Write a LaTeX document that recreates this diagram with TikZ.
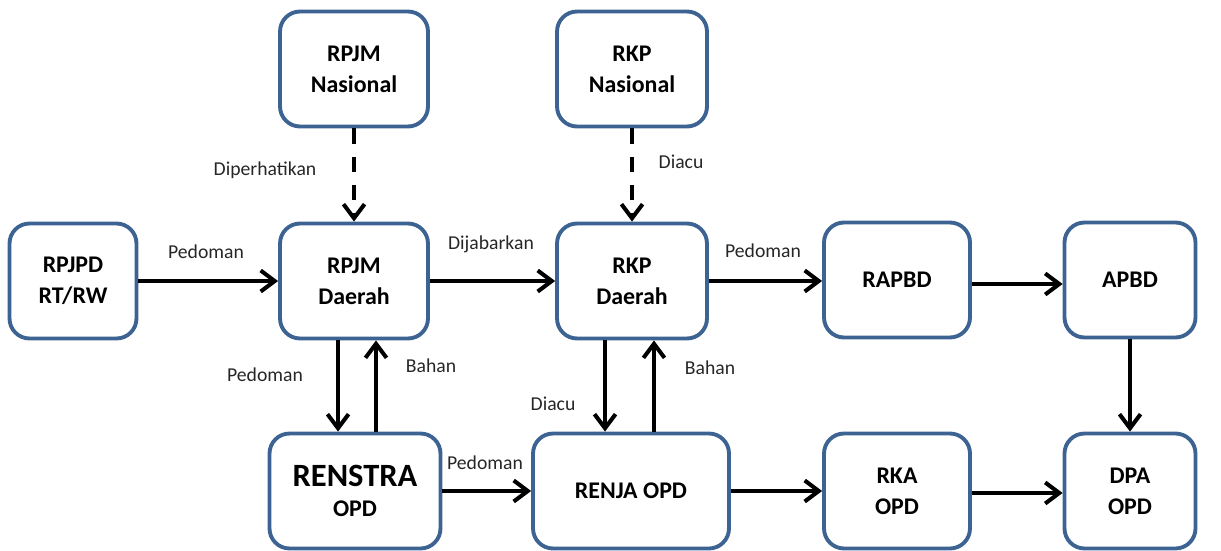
\documentclass[tikz,border=0pt]{standalone}
\usepackage{fontspec}
\setmainfont{Carlito}
\usetikzlibrary{arrows.meta}
\definecolor{boxblue}{RGB}{60,99,145}
\tikzset{
  box/.style={draw=boxblue, line width=2.2pt, rounded corners=0.4cm, fill=white,
    align=center, minimum height=2.3cm, font=\fontsize{13.6}{17.5}\selectfont\bfseries},
  arr/.style={line width=2.3pt, -{Straight Barb[length=8pt,width=12pt,line width=2.3pt]}},
  dsh/.style={arr, dash pattern=on 9pt off 7pt},
  lbl/.style={font=\fontsize{11.2}{13}\selectfont, text=black!85}
}
\begin{document}
\begin{tikzpicture}[x=0.02cm, y=-0.02cm]
  \useasboundingbox (0,0) rectangle (1221,551);
  % boxes
  \node[box, minimum width=2.54cm] (rpjpd) at (73,281) {RPJPD\\RT/RW};
  \node[box, minimum width=2.96cm] (rpjmn) at (354,69) {RPJM\\Nasional};
  \node[box, minimum width=2.96cm] (rpjmd) at (354,281) {RPJM\\Daerah};
  \node[box, minimum width=3.0cm] (rkpn) at (632,69) {RKP\\Nasional};
  \node[box, minimum width=3.0cm] (rkpd) at (632,281) {RKP\\Daerah};
  \node[box, minimum width=2.92cm] (rapbd) at (897,280) {RAPBD};
  \node[box, minimum width=2.62cm] (apbd) at (1130,280) {APBD};
  \node[box, minimum width=3.42cm] (renstra) at (355,491)
    {{\fontsize{18.5}{19.5}\selectfont RENSTRA}\\OPD};
  \node[box, minimum width=3.92cm] (renja) at (631,491) {RENJA OPD};
  \node[box, minimum width=2.92cm] (rka) at (897,491) {RKA\\OPD};
  \node[box, minimum width=2.62cm] (dpa) at (1130,491) {DPA\\OPD};
  % connectors
  \draw[arr] (rpjpd) -- (rpjmd);
  \draw[arr] (rpjmd) -- (rkpd);
  \draw[arr] (rkpd.east) -- (rkpd.east -| rapbd.west);
  \draw[arr] ([yshift=-0.08cm]rapbd.east) -- ([yshift=-0.08cm]rapbd.east -| apbd.west);
  \draw[arr] (apbd) -- (dpa);
  \draw[arr] (renstra.east) -- (renstra.east -| renja.west);
  \draw[arr] (renja) -- (rka);
  \draw[arr] ([yshift=-0.04cm]rka.east) -- ([yshift=-0.04cm]rka.east -| dpa.west);
  \draw[dsh] (rpjmn) -- (rpjmd);
  \draw[dsh] (rkpn) -- (rkpd);
  \draw[arr] ([xshift=-0.32cm]rpjmd.south) -- ([xshift=-0.32cm]rpjmd.south |- renstra.north);
  \draw[arr] ([xshift=0.44cm]rpjmd.south |- renstra.north) -- ([xshift=0.44cm]rpjmd.south);
  \draw[arr] ([xshift=-0.54cm]rkpd.south) -- ([xshift=-0.54cm]rkpd.south |- renja.north);
  \draw[arr] ([xshift=0.44cm]rkpd.south |- renja.north) -- ([xshift=0.44cm]rkpd.south);
  % labels
  \node[lbl] (l1) at (206,252) {Pedoman};
  \node[lbl] (l2) at (491,244) {Dijabarkan};
  \node[lbl] (l3) at (763,251) {Pedoman};
  \node[lbl] (l4) at (265,170) {Diperhatikan};
  \node[lbl] (l5) at (681,162) {Diacu};
  \node[lbl] (l6) at (265,375) {Pedoman};
  \node[lbl] (l7) at (431,366) {Bahan};
  \node[lbl] (l8) at (553,404) {Diacu};
  \node[lbl] (l9) at (710,368) {Bahan};
  \node[lbl] (l10) at (485,463) {Pedoman};
\end{tikzpicture}
\end{document}
